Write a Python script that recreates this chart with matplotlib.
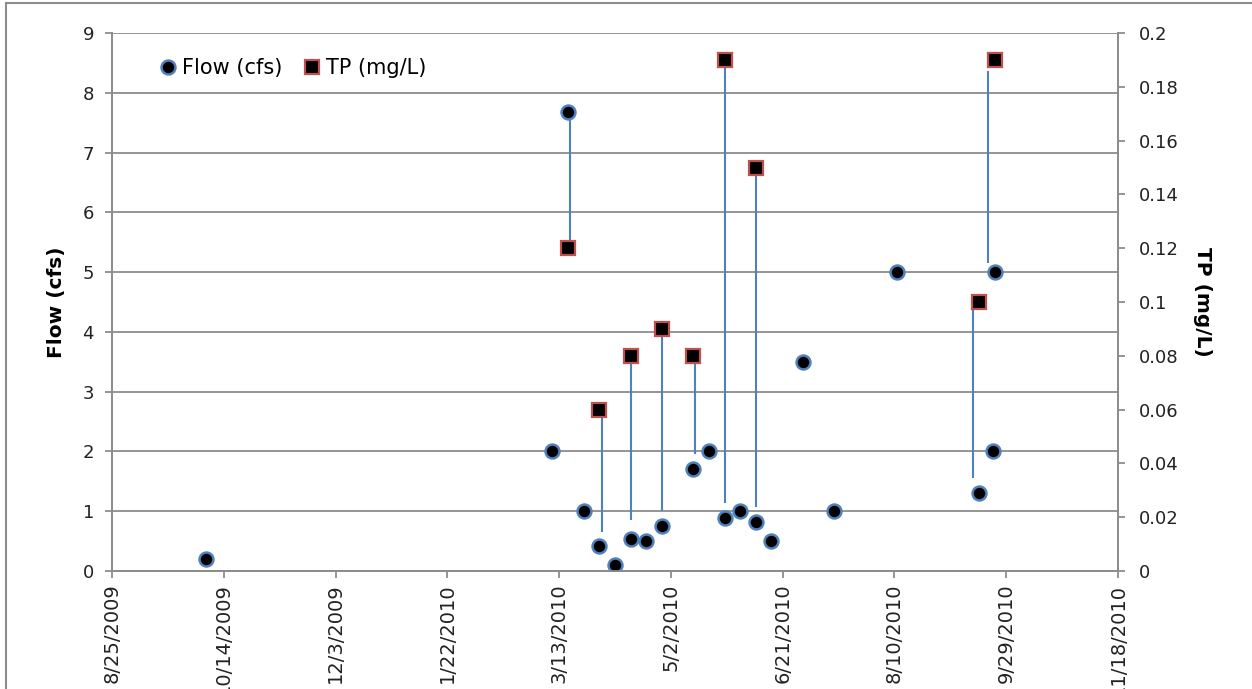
import datetime as dt
import matplotlib
matplotlib.use("Agg")
import matplotlib.pyplot as plt
import matplotlib.dates as mdates
from matplotlib.lines import Line2D
from matplotlib.ticker import FuncFormatter, MultipleLocator

# flow samples (cfs)
flow_dates = ["2009-10-06", "2010-03-10", "2010-03-17", "2010-03-24", "2010-03-31",
              "2010-04-07", "2010-04-14", "2010-04-21", "2010-04-28", "2010-05-12",
              "2010-05-19", "2010-05-26", "2010-06-02", "2010-06-09", "2010-06-16",
              "2010-06-30", "2010-07-14", "2010-08-11", "2010-09-17", "2010-09-23",
              "2010-09-24"]
flow_vals = [0.2, 2.0, 7.68, 1.0, 0.42, 0.1, 0.54, 0.5, 0.75, 1.7,
             2.0, 0.88, 1.0, 0.82, 0.5, 3.5, 1.0, 5.0, 1.3, 2.0, 5.0]

# total phosphorus samples (mg/L)
tp_dates = ["2010-03-17", "2010-03-31", "2010-04-14", "2010-04-28", "2010-05-12",
            "2010-05-26", "2010-06-09", "2010-09-17", "2010-09-24"]
tp_vals = [0.12, 0.06, 0.08, 0.09, 0.08, 0.19, 0.15, 0.10, 0.19]

# connector lines, in flow-axis units
line_dates = ["2010-03-18", "2010-04-01", "2010-04-14", "2010-04-28", "2010-05-13",
              "2010-05-26", "2010-06-09", "2010-09-14", "2010-09-21"]
line_top = [7.68, 2.7, 3.6, 4.05, 3.6, 8.55, 6.75, 4.5, 8.36]
line_bot = [5.45, 0.66, 0.86, 1.01, 1.96, 1.13, 1.07, 1.55, 5.15]

x_start = dt.date(2009, 8, 25)
x_end = dt.date(2010, 11, 18)

def to_dates(ds):
    return [dt.datetime.strptime(d, "%Y-%m-%d").date() for d in ds]

fd, td, ld = to_dates(flow_dates), to_dates(tp_dates), to_dates(line_dates)

grey = "#8c8c8c"
blue = "#4f81bd"
red = "#c0504d"

fig = plt.figure(figsize=(12.52, 6.89), dpi=100)
ax = fig.add_axes([112 / 1252, 118 / 689, 1006 / 1252, 538 / 689])
ax2 = ax.twinx()

ax.vlines(ld, line_bot, line_top, color=blue, lw=1.5, zorder=2)
ax.plot(fd, flow_vals, "o", ms=10, mfc="black", mec=blue, mew=1.8, zorder=3)
ax2.plot(td, tp_vals, "s", ms=10, mfc="black", mec=red, mew=1.6, zorder=3)

ax.set_xlim(x_start, x_end)
ax.set_ylim(0, 9)
ax2.set_ylim(0, 0.2)
ax.yaxis.set_major_locator(MultipleLocator(1))
ax2.yaxis.set_major_locator(MultipleLocator(0.02))
ax2.yaxis.set_major_formatter(FuncFormatter(lambda v, p: f"{v:g}"))

ticks = [x_start + dt.timedelta(days=50 * i) for i in range(10)]
ax.set_xticks(ticks)
ax.xaxis.set_major_formatter(FuncFormatter(
    lambda v, p: "{d.month}/{d.day}/{d.year}".format(d=mdates.num2date(v))))

ax.grid(axis="y", color=grey, lw=1.3)
ax.set_axisbelow(True)
for a in (ax, ax2):
    for s in a.spines.values():
        s.set_color(grey)
        s.set_linewidth(1.3)
    a.spines["top"].set_visible(False)
    a.tick_params(colors=grey, width=1.3, length=5, labelcolor="#222222", labelsize=13)
ax.tick_params(axis="y", pad=8)
ax2.tick_params(axis="y", pad=10)
ax.tick_params(axis="x", pad=4, labelsize=14, labelrotation=90)

ax.set_ylabel("Flow (cfs)", fontsize=14.5, fontweight="bold", labelpad=12)
ax2.set_ylabel("TP (mg/L)", fontsize=14.5, fontweight="bold", rotation=270, labelpad=24)

handles = [
    Line2D([], [], ls="none", marker="o", ms=10, mfc="black", mec=blue, mew=1.8),
    Line2D([], [], ls="none", marker="s", ms=10, mfc="black", mec=red, mew=1.6),
]
ax.legend(handles, ["Flow (cfs)", "TP (mg/L)"], loc="center left", ncol=2, frameon=False,
          fontsize=15, handlelength=0.8, handletextpad=0.3, columnspacing=1.0,
          borderpad=0, borderaxespad=0, bbox_to_anchor=(0.047, 0.935))

# outer chart border (top and left edges visible)
fig.add_artist(Line2D([6 / 1252, 6 / 1252], [0, 1 - 3 / 689], color=grey, lw=1.5))
fig.add_artist(Line2D([6 / 1252, 1], [1 - 3 / 689, 1 - 3 / 689], color=grey, lw=1.5))

fig.savefig("out.png", dpi=100)
